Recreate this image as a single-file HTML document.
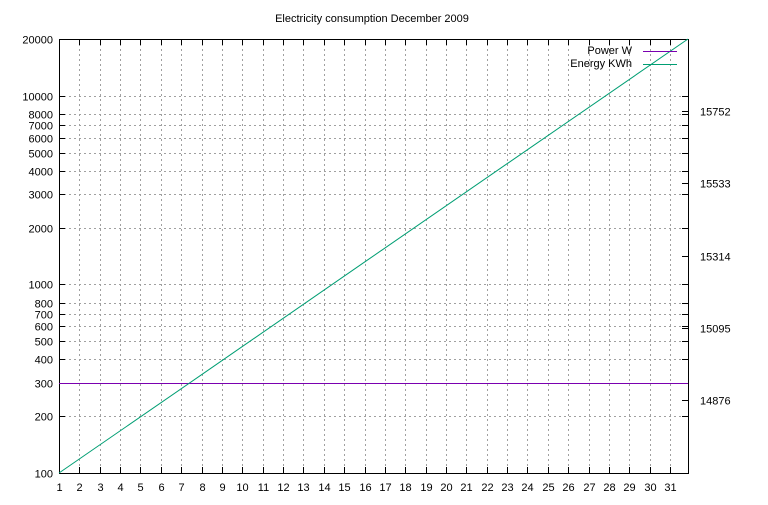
<!DOCTYPE html>
<html><head><meta charset="utf-8"><style>
body{margin:0;background:#fff}
svg text{font-family:"Liberation Sans","DejaVu Sans",sans-serif;font-size:11px;fill:#000}
</style></head><body>
<svg id="c" width="768" height="500" xmlns="http://www.w3.org/2000/svg">
<rect width="768" height="500" fill="#fff"/>
<text x="372" y="22" text-anchor="middle">Electricity consumption December 2009</text>
</svg>
<script>
const xTicks=[1,2,3,4,5,6,7,8,9,10,11,12,13,14,15,16,17,18,19,20,21,22,23,24,25,26,27,28,29,30,31];
const yMajor=[100,200,300,400,500,600,700,800,1000,2000,3000,4000,5000,6000,7000,8000,10000,20000];
const y2Ticks=[14876,15095,15314,15533,15752];
const powerDays=[1,31.88];
const powerValues=[300,300];
const energyDays=[1,8,16,24,31.88];
const energyValues=[100,332,1313,5180,20000];
const L=59,R=688,T=39,B=473,xMin=1,xMax=31.88,yMin=100,yMax=20000;
const X=v=>L+(v-xMin)/(xMax-xMin)*(R-L);
const Y=v=>B-Math.log(v/yMin)/Math.log(yMax/yMin)*(B-T);
const Y2=v=>400-(v-14876)/(15752-14876)*(400-111);
const svg=document.getElementById('c');const NS='http://www.w3.org/2000/svg';
function mk(t,a,txt){const e=document.createElementNS(NS,t);for(const k in a)e.setAttribute(k,a[k]);if(txt!==undefined)e.textContent=txt;svg.appendChild(e);return e;}
const r=v=>Math.round(v)+0.5;
xTicks.forEach(v=>{const x=r(X(v));
 if(v>1){const g=mk('line',{x1:x,x2:x,y1:T,y2:B,stroke:'#a0a0a0','stroke-dasharray':'2,3','shape-rendering':'crispEdges'});
 
 }
 mk('line',{x1:x,x2:x,y1:B,y2:B-6,stroke:'#000','shape-rendering':'crispEdges'});mk('line',{x1:x,x2:x,y1:T,y2:T+6,stroke:'#000','shape-rendering':'crispEdges'});
 const t=mk('text',{x:x,y:B+18,'text-anchor':'middle'},v);
 
 });
yMajor.forEach(v=>{const y=r(Y(v));
 if(v>100&&v<20000){const g=mk('line',{x1:L,x2:R,y1:y,y2:y,stroke:'#a0a0a0','stroke-dasharray':'2,3','shape-rendering':'crispEdges'});
 
 }
 mk('line',{x1:L,x2:L+6,y1:y,y2:y,stroke:'#000','shape-rendering':'crispEdges'});mk('line',{x1:R,x2:R-6,y1:y,y2:y,stroke:'#000','shape-rendering':'crispEdges'});
 const t=mk('text',{x:L-6,y:y+4,'text-anchor':'end'},v);
 
 });
y2Ticks.forEach(v=>{const y=r(Y2(v));
 mk('line',{x1:R,x2:R-6,y1:y,y2:y,stroke:'#000','shape-rendering':'crispEdges'});
 const t=mk('text',{x:700,y:y+4},v);
 
 });
const fr=mk('rect',{x:L+0.5,y:T+0.5,width:R-L,height:B-T,fill:'none',stroke:'#000','shape-rendering':'crispEdges'});


const p=mk('polyline',{points:powerDays.map((d,i)=>X(d)+','+(Math.round(Y(powerValues[i]))+0.5)).join(' '),fill:'none',stroke:'#7a00b0','stroke-width':1,'shape-rendering':'crispEdges'});


const e=mk('polyline',{points:energyDays.map((d,i)=>X(d)+','+Y(energyValues[i])).join(' '),fill:'none',stroke:'#009e73','stroke-width':1});


let t1=mk('text',{x:632,y:54,'text-anchor':'end'},'Power W');


mk('line',{x1:643,x2:677,y1:51.5,y2:51.5,stroke:'#7a00b0','shape-rendering':'crispEdges'});
let t2=mk('text',{x:632,y:67,'text-anchor':'end'},'Energy KWh');


mk('line',{x1:643,x2:677,y1:64.5,y2:64.5,stroke:'#009e73','shape-rendering':'crispEdges'});
</script>
</body></html>
